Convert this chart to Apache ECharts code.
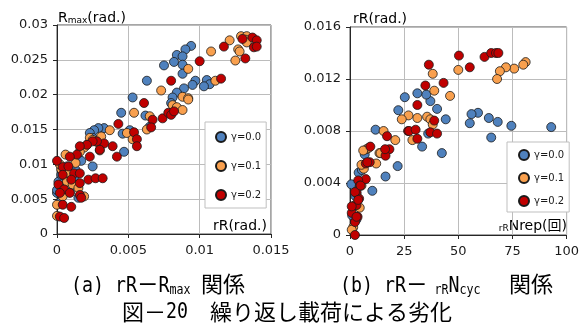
<!DOCTYPE html>
<html>
<head>
<meta charset="utf-8">
<script src="https://cdn.jsdelivr.net/npm/echarts@6/dist/echarts.min.js"></script>
<style>
html,body{margin:0;padding:0;background:#fff}
#chart{width:582px;height:327px}
</style>
</head>
<body>
<div id="chart"></div>
<script>
// Series names and colours (shared by both panels)
const seriesNames = ['γ=0.0', 'γ=0.1', 'γ=0.2'];
const seriesColors = ['#4F81BD', '#F9A04E', '#C00000'];

// Tick values of each axis
const ticksAx = [0, 0.005, 0.01, 0.015];
const ticksAy = [0, 0.005, 0.01, 0.015, 0.02, 0.025, 0.03];
const ticksBx = [0, 25, 50, 75, 100];
const ticksBy = [0, 0.004, 0.008, 0.012, 0.016];

// (a) rR [rad] vs Rmax [rad]
const a_g00 = [
  [0.0094,0.0270],[0.0090,0.0265],[0.0084,0.0257],[0.0088,0.0255],[0.0082,0.0247],[0.0088,0.0243],
  [0.0075,0.0242],[0.0088,0.0230],[0.0063,0.0220],[0.0097,0.0220],[0.0105,0.0221],[0.0107,0.0215],
  [0.0103,0.0212],[0.0095,0.0214],[0.0089,0.0209],[0.0084,0.0203],[0.0081,0.0196],[0.0053,0.0196],
  [0.0080,0.0188],[0.0062,0.0170],[0.0065,0.0154],[0.0045,0.0174],[0.0051,0.0149],[0.0046,0.0144],
  [0.0047,0.0118],[0.0033,0.0152],[0.0029,0.0152],[0.0026,0.0149],[0.0023,0.0145],[0.0025,0.0097],
  [0.0015,0.0052],[0.0001,0.0075],[0.0000,0.0059],[0.0003,0.0085],[0.0013,0.0092],[0.0000,0.0063],
  [0.0004,0.0068],[0.0007,0.0097],[0.0017,0.0105],[0.0019,0.0125],[0.0012,0.0082],[0.0025,0.0138],
  [0.0009,0.0060],[0.0002,0.0045]
];
const a_g01 = [
  [0.0129,0.0284],[0.0133,0.0284],[0.0132,0.0279],[0.0133,0.0275],[0.0121,0.0278],[0.0108,0.0262],
  [0.0127,0.0265],[0.0128,0.0262],[0.0125,0.0249],[0.0092,0.0237],[0.0111,0.0220],[0.0073,0.0206],
  [0.0088,0.0197],[0.0092,0.0195],[0.0092,0.0193],[0.0081,0.0185],[0.0084,0.0182],[0.0088,0.0178],
  [0.0054,0.0174],[0.0065,0.0169],[0.0063,0.0150],[0.0037,0.0149],[0.0049,0.0145],[0.0053,0.0136],
  [0.0023,0.0138],[0.0025,0.0135],[0.0028,0.0132],[0.0031,0.0140],[0.0021,0.0128],[0.0019,0.0124],
  [0.0016,0.0118],[0.0030,0.0120],[0.0006,0.0114],[0.0013,0.0102],[0.0019,0.0054],[0.0000,0.0042],
  [0.0000,0.0026],[0.0007,0.0075],[0.0011,0.0071],[0.0003,0.0093],[0.0008,0.0088],[0.0015,0.0066],
  [0.0004,0.0054],[0.0002,0.0100]
];
const a_g02 = [
  [0.0137,0.0282],[0.0140,0.0278],[0.0130,0.0280],[0.0117,0.0269],[0.0132,0.0252],[0.0138,0.0268],
  [0.0140,0.0269],[0.0100,0.0248],[0.0115,0.0223],[0.0080,0.0220],[0.0061,0.0188],[0.0067,0.0164],
  [0.0074,0.0166],[0.0078,0.0174],[0.0080,0.0171],[0.0082,0.0176],[0.0066,0.0153],[0.0043,0.0158],
  [0.0054,0.0146],[0.0056,0.0136],[0.0056,0.0126],[0.0042,0.0111],[0.0039,0.0126],[0.0033,0.0130],
  [0.0028,0.0133],[0.0025,0.0133],[0.0021,0.0128],[0.0030,0.0121],[0.0023,0.0111],[0.0016,0.0126],
  [0.0014,0.0114],[0.0009,0.0111],[0.0000,0.0105],[0.0004,0.0096],[0.0008,0.0097],[0.0012,0.0087],
  [0.0016,0.0087],[0.0022,0.0078],[0.0027,0.0080],[0.0032,0.0080],[0.0004,0.0085],[0.0010,0.0078],
  [0.0016,0.0073],[0.0001,0.0071],[0.0005,0.0064],[0.0009,0.0059],[0.0002,0.0059],[0.0016,0.0056],
  [0.0017,0.0052],[0.0004,0.0042],[0.0010,0.0039],[0.0002,0.0025],[0.0005,0.0023]
];

// (b) rRNrep [cycles] vs rR [rad]
const b_g00 = [
  [92.9,0.0083],[74.5,0.0084],[68.2,0.0087],[65.2,0.0075],[64.1,0.0090],[59.1,0.0094],
  [56.1,0.0093],[55.3,0.0086],[44.2,0.0089],[42.4,0.0063],[40.2,0.0097],[37.1,0.0103],
  [35.2,0.0108],[36.1,0.0078],[31.1,0.0109],[33.3,0.0068],[25.3,0.0106],[22.3,0.0096],
  [22.0,0.0053],[16.4,0.0045],[11.8,0.0081],[10.3,0.0034],[6.8,0.0062],[0.6,0.0039],
  [1.5,0.0022],[2.5,0.0030],[4.0,0.0048],[5.5,0.0050],[1.0,0.0015],[3.0,0.0012],[6.0,0.0053]
];
const b_g01 = [
  [81.1,0.0133],[80.0,0.0131],[75.8,0.0128],[72.0,0.0129],[69.2,0.0126],[67.9,0.0120],
  [50.0,0.0127],[38.2,0.0124],[46.2,0.0107],[38.9,0.0111],[35.6,0.0091],[31.1,0.0090],
  [27.0,0.0092],[23.9,0.0089],[37.1,0.0089],[38.2,0.0085],[28.8,0.0073],[20.9,0.0073],
  [15.5,0.0080],[13.6,0.0063],[12.1,0.0055],[7.6,0.0066],[6.4,0.0051],[5.3,0.0038],
  [3.0,0.0032],[4.5,0.0021],[1.5,0.0006],[0.8,0.0004],[8.6,0.0067],[6.1,0.0065],
  [14.1,0.0063],[2.3,0.0023],[5.3,0.0054]
];
const b_g02 = [
  [50.3,0.0138],[55.3,0.0129],[62.1,0.0137],[65.2,0.0140],[67.4,0.0140],[68.5,0.0140],
  [36.4,0.0131],[43.2,0.0117],[34.8,0.0115],[31.1,0.0100],[26.8,0.0080],[27.3,0.0080],
  [30.3,0.0081],[31.1,0.0074],[37.1,0.0079],[40.2,0.0078],[38.9,0.0088],[17.1,0.0076],
  [18.2,0.0066],[16.4,0.0061],[9.4,0.0068],[9.1,0.0056],[7.3,0.0043],[7.3,0.0055],
  [3.8,0.0042],[4.5,0.0038],[3.0,0.0033],[4.2,0.0028],[3.0,0.0023],[3.5,0.0014],
  [2.3,0.0010],[2.3,0.0000],[8.0,0.0056],[16.2,0.0066],[2.3,0.0033],[3.8,0.0027],
  [0.8,0.0017],[3.0,0.0014],[4.9,0.0038],[0.8,0.0022]
];

const tickFont = 'DejaVu Sans';
const monoFont = '"DejaVu Sans Mono", monospace';
const jpFont = '"Noto Sans CJK JP", "DejaVu Sans", sans-serif';

function fmt(v) { return String(parseFloat(v.toFixed(4))); }

function valueAxis(ticks, gridIndex, margin) {
  return {
    type: 'value', gridIndex: gridIndex,
    min: ticks[0], max: ticks[ticks.length - 1], interval: ticks[1] - ticks[0],
    axisLine: { show: true, lineStyle: { color: '#262626', width: 1 } },
    axisTick: { show: true, length: 4, lineStyle: { color: '#262626' } },
    splitLine: { show: true, lineStyle: { color: '#bcbcbc', width: 1 } },
    axisLabel: { fontFamily: tickFont, fontSize: 13, color: '#1a1a1a', margin: margin, formatter: fmt }
  };
}

function scatter(name, idx, data, axisIndex) {
  return {
    type: 'scatter', name: name, data: data,
    xAxisIndex: axisIndex, yAxisIndex: axisIndex,
    symbol: 'circle', symbolSize: 9,
    itemStyle: { color: seriesColors[idx], borderColor: '#1a1a1a', borderWidth: 0.8, opacity: 1 },
    emphasis: { disabled: true }
  };
}

function legendBox(left, top, padding, gap) {
  return {
    left: left, top: top, orient: 'vertical',
    data: seriesNames.map(n => ({ name: n, icon: 'circle' })),
    itemWidth: 10, itemHeight: 10, itemGap: gap, padding: padding,
    backgroundColor: '#fff', borderColor: '#bfbfbf', borderWidth: 1,
    textStyle: { fontFamily: tickFont, fontSize: 10, color: '#1a1a1a' },
    selectedMode: false
  };
}

// rich text element; sx narrows the glyphs horizontally (half-width gothic look)
function richText(x, y, align, vAlign, text, rich, sx) {
  return {
    type: 'text', x: x, y: y, scaleX: sx || 1, silent: true,
    style: { text: text, align: align, verticalAlign: vAlign, rich: rich, fill: '#000' }
  };
}

const axisRich = {
  b: { fontFamily: tickFont + ', "Noto Sans CJK JP"', fontSize: 14, fill: '#000', verticalAlign: 'bottom' },
  s: { fontFamily: tickFont, fontSize: 9, fill: '#000', verticalAlign: 'bottom' }
};
// captions: narrow half-width Latin next to CJK gothic
const capRich = {
  l: { fontFamily: monoFont, fontSize: 22, fill: '#000', verticalAlign: 'bottom' },
  d: { fontFamily: jpFont, fontSize: 26, fill: '#000', verticalAlign: 'bottom' },
  s: { fontFamily: monoFont, fontSize: 14, fill: '#000', verticalAlign: 'bottom' }
};
const kanjiRich = {
  k: { fontFamily: jpFont, fontSize: 22, fill: '#000', verticalAlign: 'bottom' }
};
const narrow = 0.83;

const chart = echarts.init(document.getElementById('chart'), null, { renderer: 'canvas' });
chart.setOption({
  animation: false,
  backgroundColor: '#fff',
  grid: [
    { left: 57, top: 25, width: 214, height: 209, show: true, borderColor: '#4d4d4d', borderWidth: 1, backgroundColor: 'transparent' },
    { left: 350, top: 27, width: 220, height: 208, show: true, borderColor: '#4d4d4d', borderWidth: 1, backgroundColor: 'transparent' }
  ],
  xAxis: [valueAxis(ticksAx, 0, 10), valueAxis(ticksBx, 1, 10)],
  yAxis: [valueAxis(ticksAy, 0, 9), valueAxis(ticksBy, 1, 9)],
  legend: [
    legendBox(205, 122, [9, 5, 7, 10], 17),
    legendBox(507, 142, [7, 5, 5, 11], 11)
  ],
  series: [
    scatter(seriesNames[0], 0, a_g00, 0),
    scatter(seriesNames[1], 1, a_g01, 0),
    scatter(seriesNames[2], 2, a_g02, 0),
    scatter(seriesNames[0], 0, b_g00, 1),
    scatter(seriesNames[1], 1, b_g01, 1),
    scatter(seriesNames[2], 2, b_g02, 1)
  ],
  graphic: [
    // axis titles
    richText(58, 11.5, 'left', 'top', '{b|R}{s|max}{b|(rad.)}', axisRich),
    richText(267, 219, 'right', 'top', '{b|rR(rad.)}', axisRich),
    richText(353, 12, 'left', 'top', '{b|rR(rad.)}', axisRich),
    richText(567, 219, 'right', 'top', '{s|rR}{b|Nrep(回)}', axisRich),
    // sub-captions
    richText(71, 284, 'left', 'middle', '{l|(a) rR}{d|－}{l|R}{s|max}', capRich, narrow),
    richText(245, 284, 'right', 'middle', '{k|関係}', kanjiRich),
    richText(340, 284, 'left', 'middle', '{l|(b) rR}{d|－}{s| rR}{l|N}{s|cyc}', capRich, narrow),
    richText(553, 284, 'right', 'middle', '{k|関係}', kanjiRich),
    // figure title
    richText(122, 312, 'left', 'middle', '{k|図－}', kanjiRich),
    richText(166, 312, 'left', 'middle', '{l|20}', capRich, narrow),
    richText(188, 312, 'left', 'middle', '{k|　繰り返し載荷による劣化}', kanjiRich)
  ]
});
</script>
</body>
</html>
